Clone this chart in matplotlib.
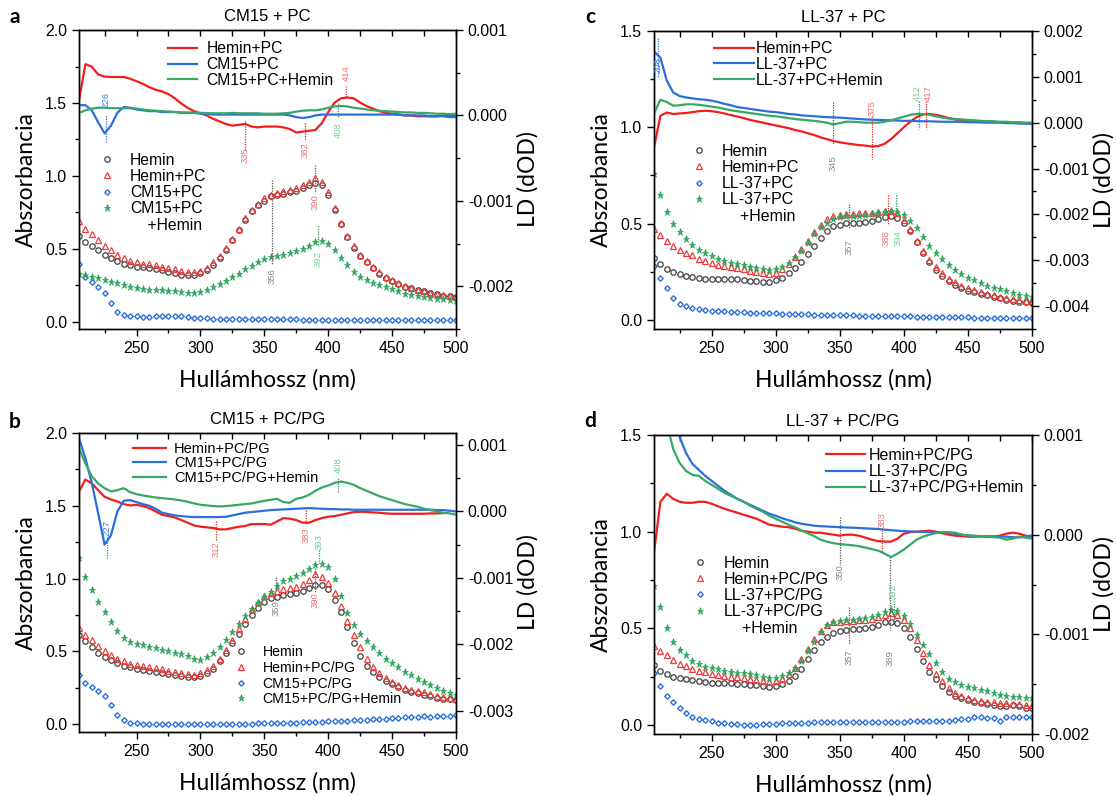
import numpy as np
import matplotlib
matplotlib.use('Agg')
import matplotlib.pyplot as plt
from matplotlib.lines import Line2D
from matplotlib.ticker import MultipleLocator, FormatStrFormatter

plt.rcParams['font.family'] = ['Liberation Sans', 'DejaVu Sans']

# wavelength grid (nm), one point every 5 nm
wl = np.arange(205, 501, 5)

# ---------------- panel a: CM15 + PC ----------------
a_hemin = [0.59, 0.55, 0.52, 0.49, 0.46, 0.44, 0.42, 0.40, 0.39, 0.38,
           0.375, 0.37, 0.36, 0.355, 0.345, 0.335, 0.325, 0.32, 0.325, 0.335,
           0.355, 0.39, 0.435, 0.49, 0.56, 0.63, 0.70, 0.76, 0.80, 0.83,
           0.86, 0.87, 0.88, 0.89, 0.90, 0.92, 0.94, 0.955, 0.94, 0.87,
           0.77, 0.67, 0.58, 0.51, 0.45, 0.41, 0.37, 0.33, 0.30, 0.28,
           0.26, 0.24, 0.23, 0.22, 0.21, 0.20, 0.19, 0.18, 0.175, 0.17]
a_hemin_pc = [0.69, 0.64, 0.60, 0.56, 0.52, 0.49, 0.46, 0.44, 0.42, 0.41,
              0.40, 0.395, 0.39, 0.38, 0.37, 0.36, 0.35, 0.345, 0.345, 0.35,
              0.37, 0.41, 0.45, 0.51, 0.57, 0.64, 0.71, 0.77, 0.81, 0.85,
              0.87, 0.885, 0.895, 0.905, 0.92, 0.94, 0.96, 0.985, 0.96, 0.89,
              0.78, 0.68, 0.59, 0.52, 0.46, 0.415, 0.375, 0.34, 0.31, 0.285,
              0.265, 0.245, 0.23, 0.22, 0.21, 0.20, 0.19, 0.185, 0.175, 0.17]
a_cm15_pc = [0.40, 0.31, 0.275, 0.24, 0.20, 0.13, 0.07, 0.045, 0.04, 0.038,
             0.037, 0.037, 0.038, 0.04, 0.04, 0.04, 0.038, 0.035, 0.03, 0.027,
             0.025, 0.022, 0.02, 0.02, 0.02, 0.019, 0.019, 0.018, 0.018, 0.018,
             0.018, 0.017, 0.017, 0.017, 0.017, 0.016, 0.016, 0.016, 0.016, 0.016,
             0.016, 0.016, 0.015, 0.015, 0.015, 0.015, 0.015, 0.015, 0.015, 0.015,
             0.015, 0.015, 0.015, 0.015, 0.014, 0.014, 0.014, 0.014, 0.014, 0.014]
a_cm15_pc_hemin = [0.33, 0.32, 0.31, 0.30, 0.29, 0.275, 0.265, 0.25, 0.24, 0.23,
                   0.225, 0.222, 0.22, 0.218, 0.215, 0.21, 0.205, 0.20, 0.198, 0.205,
                   0.22, 0.24, 0.26, 0.28, 0.305, 0.33, 0.36, 0.385, 0.41, 0.43,
                   0.445, 0.455, 0.46, 0.47, 0.485, 0.50, 0.52, 0.545, 0.555, 0.535,
                   0.49, 0.435, 0.39, 0.345, 0.31, 0.29, 0.27, 0.255, 0.24, 0.225,
                   0.21, 0.195, 0.185, 0.175, 0.17, 0.165, 0.16, 0.155, 0.15, 0.145]
# LD spectra in units of 1e-3 dOD
a_ld_hemin_pc = [0.18, 0.60, 0.57, 0.48, 0.455, 0.45, 0.45, 0.45, 0.43, 0.40,
                 0.37, 0.33, 0.30, 0.28, 0.25, 0.20, 0.14, 0.09, 0.05, 0.025,
                 0.0, -0.04, -0.07, -0.10, -0.12, -0.11, -0.10, -0.13, -0.14, -0.13,
                 -0.13, -0.13, -0.14, -0.16, -0.20, -0.19, -0.18, -0.17, -0.09, 0.04,
                 0.15, 0.20, 0.21, 0.20, 0.15, 0.11, 0.08, 0.05, 0.03, 0.02,
                 0.01, 0.0, 0.0, -0.01, -0.01, -0.01, -0.01, 0.0, 0.0, 0.0]
a_ld_cm15_pc = [0.12, 0.12, 0.06, -0.08, -0.21, -0.12, 0.03, 0.10, 0.09, 0.07,
                0.06, 0.05, 0.05, 0.04, 0.04, 0.04, 0.03, 0.03, 0.03, 0.02,
                0.02, 0.01, 0.01, 0.01, 0.01, 0.01, 0.01, 0.01, 0.01, 0.01,
                0.01, 0.01, 0.01, 0.0, -0.02, -0.03, -0.02, 0.0, 0.01, 0.01,
                0.01, 0.01, 0.01, 0.01, 0.01, 0.01, 0.01, 0.01, 0.01, 0.01,
                0.01, 0.0, 0.0, 0.0, 0.0, -0.01, -0.01, -0.01, -0.02, -0.02]
a_ld_cm15_pc_hemin = [0.03, 0.06, 0.08, 0.09, 0.09, 0.085, 0.085, 0.085, 0.085, 0.08,
                      0.07, 0.06, 0.055, 0.05, 0.045, 0.04, 0.035, 0.035, 0.03, 0.03,
                      0.028, 0.025, 0.025, 0.025, 0.03, 0.025, 0.025, 0.025, 0.025, 0.02,
                      0.02, 0.02, 0.025, 0.03, 0.045, 0.055, 0.06, 0.06, 0.07, 0.09,
                      0.105, 0.11, 0.105, 0.09, 0.08, 0.07, 0.06, 0.055, 0.05, 0.045,
                      0.04, 0.035, 0.035, 0.03, 0.03, 0.025, 0.02, 0.02, 0.015, 0.02]

# ---------------- panel b: CM15 + PC/PG ----------------
b_hemin = [0.61, 0.57, 0.53, 0.49, 0.46, 0.44, 0.42, 0.40, 0.39, 0.38,
           0.37, 0.362, 0.355, 0.35, 0.342, 0.334, 0.327, 0.32, 0.32, 0.33,
           0.35, 0.38, 0.43, 0.49, 0.555, 0.62, 0.69, 0.75, 0.80, 0.84,
           0.865, 0.875, 0.885, 0.892, 0.90, 0.915, 0.935, 0.955, 0.955, 0.925,
           0.85, 0.77, 0.665, 0.555, 0.47, 0.40, 0.355, 0.32, 0.295, 0.275,
           0.255, 0.235, 0.22, 0.21, 0.198, 0.19, 0.182, 0.175, 0.17, 0.165]
b_hemin_pcpg = [0.66, 0.61, 0.575, 0.535, 0.50, 0.475, 0.45, 0.43, 0.415, 0.405,
                0.398, 0.39, 0.385, 0.375, 0.365, 0.357, 0.35, 0.342, 0.34, 0.35,
                0.37, 0.40, 0.45, 0.51, 0.58, 0.65, 0.72, 0.79, 0.84, 0.88,
                0.90, 0.915, 0.925, 0.935, 0.945, 0.96, 0.99, 1.03, 1.01, 0.97,
                0.90, 0.81, 0.71, 0.61, 0.53, 0.45, 0.395, 0.35, 0.315, 0.29,
                0.27, 0.25, 0.235, 0.225, 0.22, 0.205, 0.195, 0.185, 0.18, 0.175]
b_cm15_pcpg = [0.34, 0.28, 0.255, 0.225, 0.19, 0.13, 0.065, 0.025, 0.01, 0.005,
               0.003, 0.002, 0.002, 0.003, 0.003, 0.003, 0.002, 0.0, 0.0, -0.002,
               0.0, 0.0, 0.001, 0.001, 0.002, 0.002, 0.003, 0.003, 0.004, 0.005,
               0.006, 0.007, 0.008, 0.009, 0.01, 0.012, 0.013, 0.015, 0.016, 0.018,
               0.019, 0.02, 0.022, 0.025, 0.027, 0.03, 0.032, 0.035, 0.037, 0.04,
               0.042, 0.045, 0.05, 0.048, 0.055, 0.05, 0.053, 0.055, 0.058, 0.06]
b_cm15_pcpg_hemin = [1.14, 1.01, 0.92, 0.84, 0.77, 0.70, 0.64, 0.59, 0.565, 0.55,
                     0.54, 0.53, 0.52, 0.51, 0.50, 0.49, 0.48, 0.47, 0.45, 0.44,
                     0.46, 0.49, 0.53, 0.58, 0.63, 0.69, 0.74, 0.79, 0.83, 0.87,
                     0.91, 0.95, 0.985, 1.0, 1.02, 1.04, 1.065, 1.09, 1.10, 1.08,
                     1.0, 0.88, 0.76, 0.68, 0.62, 0.57, 0.53, 0.49, 0.45, 0.42,
                     0.39, 0.36, 0.335, 0.31, 0.29, 0.27, 0.25, 0.23, 0.21, 0.20]
b_ld_hemin_pcpg = [0.30, 0.48, 0.42, 0.32, 0.22, 0.18, 0.15, 0.11, 0.09, 0.10,
                   0.08, 0.05, 0.0, -0.05, -0.07, -0.09, -0.13, -0.17, -0.21, -0.23,
                   -0.24, -0.25, -0.27, -0.27, -0.25, -0.23, -0.22, -0.19, -0.19, -0.19,
                   -0.20, -0.15, -0.10, -0.11, -0.13, -0.17, -0.17, -0.13, -0.10, -0.08,
                   -0.07, -0.05, -0.03, -0.01, -0.005, -0.01, -0.015, -0.02, -0.03, -0.035,
                   -0.035, -0.035, -0.035, -0.035, -0.035, -0.03, -0.03, -0.025, np.nan, np.nan]
b_ld_cm15_pcpg = [1.10, 0.80, 0.43, -0.03, -0.50, -0.36, 0.0, 0.16, 0.17, 0.14,
                  0.11, 0.085, 0.04, -0.02, -0.04, -0.06, -0.07, -0.08, -0.085, -0.085,
                  -0.085, -0.085, -0.085, -0.08, -0.06, -0.04, -0.02, -0.01, 0.0, 0.01,
                  0.02, 0.025, 0.03, 0.035, 0.04, 0.045, 0.05, 0.045, 0.04, 0.035,
                  0.035, 0.03, 0.03, 0.025, 0.025, 0.025, 0.025, 0.025, 0.025, 0.025,
                  0.025, 0.025, 0.025, 0.025, 0.025, 0.025, 0.02, 0.02, 0.01, 0.0]
b_ld_cm15_pcpg_hemin = [0.95, 0.72, 0.53, 0.42, 0.35, 0.30, 0.32, 0.35, 0.29, 0.26,
                        0.24, 0.225, 0.21, 0.20, 0.19, 0.18, 0.165, 0.145, 0.12, 0.10,
                        0.09, 0.08, 0.075, 0.08, 0.09, 0.10, 0.11, 0.12, 0.14, 0.16,
                        0.175, 0.19, 0.14, 0.13, 0.19, 0.21, 0.25, 0.31, 0.36, 0.39,
                        0.43, 0.45, 0.43, 0.40, 0.35, 0.31, 0.27, 0.23, 0.20, 0.17,
                        0.14, 0.11, 0.09, 0.07, 0.04, 0.02, 0.0, -0.02, -0.03, -0.05]

# ---------------- panel c: LL-37 + PC ----------------
c_hemin = [0.32, 0.29, 0.265, 0.25, 0.24, 0.23, 0.225, 0.218, 0.214, 0.212,
           0.21, 0.21, 0.21, 0.21, 0.207, 0.204, 0.20, 0.198, 0.198, 0.205,
           0.22, 0.245, 0.27, 0.30, 0.34, 0.385, 0.425, 0.46, 0.485, 0.495,
           0.502, 0.505, 0.505, 0.507, 0.513, 0.522, 0.532, 0.538, 0.53, 0.505,
           0.46, 0.405, 0.35, 0.30, 0.26, 0.23, 0.20, 0.18, 0.165, 0.152,
           0.145, 0.137, 0.13, 0.12, 0.112, 0.105, 0.10, 0.095, 0.092, 0.09]
c_hemin_pc = [0.47, 0.44, 0.41, 0.385, 0.365, 0.35, 0.335, 0.318, 0.305, 0.295,
              0.287, 0.28, 0.275, 0.27, 0.262, 0.255, 0.248, 0.242, 0.24, 0.245,
              0.265, 0.29, 0.325, 0.37, 0.41, 0.455, 0.495, 0.525, 0.54, 0.545,
              0.55, 0.552, 0.553, 0.554, 0.556, 0.558, 0.563, 0.565, 0.555, 0.52,
              0.47, 0.41, 0.36, 0.31, 0.275, 0.245, 0.215, 0.195, 0.178, 0.165,
              0.155, 0.145, 0.135, 0.127, 0.12, 0.113, 0.108, 0.104, 0.10, 0.098]
c_ll37_pc = [0.28, 0.22, 0.165, 0.115, 0.085, 0.07, 0.062, 0.056, 0.052, 0.048,
             0.046, 0.044, 0.042, 0.041, 0.04, 0.038, 0.037, 0.036, 0.035, 0.034,
             0.033, 0.032, 0.031, 0.03, 0.029, 0.028, 0.027, 0.026, 0.026, 0.025,
             0.024, 0.024, 0.023, 0.022, 0.022, 0.021, 0.02, 0.02, 0.019, 0.018,
             0.018, 0.017, 0.017, 0.016, 0.015, 0.015, 0.014, 0.014, 0.013, 0.013,
             0.012, 0.012, 0.011, 0.011, 0.01, 0.01, 0.009, 0.009, 0.008, 0.008]
c_ll37_pc_hemin = [0.76, 0.65, 0.56, 0.50, 0.455, 0.42, 0.39, 0.365, 0.345, 0.33,
                   0.315, 0.305, 0.297, 0.29, 0.283, 0.277, 0.27, 0.263, 0.26, 0.262,
                   0.275, 0.295, 0.325, 0.36, 0.40, 0.445, 0.48, 0.505, 0.522, 0.532,
                   0.537, 0.54, 0.542, 0.545, 0.548, 0.553, 0.56, 0.566, 0.562, 0.545,
                   0.515, 0.475, 0.43, 0.385, 0.345, 0.315, 0.285, 0.26, 0.24, 0.22,
                   0.205, 0.19, 0.178, 0.168, 0.16, 0.15, 0.14, 0.132, 0.125, 0.118]
c_ld_hemin_pc = [-0.55, 0.15, 0.22, 0.19, 0.20, 0.21, 0.23, 0.25, 0.26, 0.25,
                 0.23, 0.20, 0.165, 0.135, 0.10, 0.06, 0.03, 0.0, -0.03, -0.06,
                 -0.09, -0.12, -0.16, -0.19, -0.23, -0.27, -0.32, -0.36, -0.40, -0.43,
                 -0.45, -0.47, -0.49, -0.50, -0.52, -0.51, -0.46, -0.36, -0.23, -0.10,
                 0.02, 0.12, 0.18, 0.19, 0.17, 0.14, 0.10, 0.07, 0.06, 0.05,
                 0.04, 0.03, 0.03, 0.02, 0.01, 0.0, 0.0, 0.0, -0.01, -0.02]
c_ld_ll37_pc = [1.55, 1.42, 0.92, 0.66, 0.58, 0.55, 0.53, 0.51, 0.50, 0.48,
                0.45, 0.41, 0.38, 0.34, 0.32, 0.30, 0.28, 0.26, 0.24, 0.23,
                0.21, 0.19, 0.18, 0.16, 0.15, 0.14, 0.13, 0.12, 0.115, 0.11,
                0.10, 0.09, 0.08, 0.07, 0.065, 0.06, 0.055, 0.05, 0.045, 0.04,
                0.04, 0.035, 0.03, 0.03, 0.025, 0.02, 0.02, 0.02, 0.015, 0.01,
                0.01, 0.005, 0.0, 0.0, 0.0, -0.01, -0.01, -0.02, -0.02, -0.03]
c_ld_ll37_pc_hemin = [0.20, 0.50, 0.45, 0.37, 0.38, 0.40, 0.40, 0.39, 0.37, 0.35,
                      0.33, 0.30, 0.27, 0.25, 0.23, 0.21, 0.19, 0.17, 0.15, 0.14,
                      0.12, 0.10, 0.08, 0.065, 0.05, 0.04, 0.02, 0.0, -0.04, -0.01,
                      0.02, 0.02, 0.01, 0.0, 0.0, 0.0, 0.02, 0.05, 0.09, 0.13,
                      0.17, 0.19, 0.19, 0.17, 0.14, 0.11, 0.09, 0.08, 0.07, 0.06,
                      0.05, 0.04, 0.035, 0.03, 0.02, 0.02, 0.01, 0.01, 0.0, 0.0]

# ---------------- panel d: LL-37 + PC/PG ----------------
d_hemin = [0.31, 0.28, 0.265, 0.25, 0.242, 0.235, 0.23, 0.225, 0.22, 0.217,
           0.215, 0.215, 0.215, 0.214, 0.21, 0.207, 0.204, 0.20, 0.198, 0.20,
           0.21, 0.228, 0.255, 0.29, 0.34, 0.39, 0.43, 0.455, 0.475, 0.487,
           0.493, 0.495, 0.497, 0.50, 0.507, 0.517, 0.53, 0.535, 0.527, 0.50,
           0.455, 0.395, 0.33, 0.275, 0.235, 0.20, 0.17, 0.15, 0.137, 0.128,
           0.12, 0.113, 0.108, 0.103, 0.10, 0.10, 0.103, 0.097, 0.09, 0.087]
d_hemin_pcpg = [0.41, 0.385, 0.36, 0.335, 0.315, 0.303, 0.29, 0.28, 0.272, 0.265,
                0.259, 0.255, 0.25, 0.247, 0.242, 0.235, 0.23, 0.225, 0.224, 0.228,
                0.24, 0.262, 0.295, 0.34, 0.395, 0.445, 0.488, 0.515, 0.53, 0.535,
                0.538, 0.54, 0.542, 0.545, 0.55, 0.557, 0.568, 0.578, 0.57, 0.545,
                0.50, 0.44, 0.37, 0.31, 0.265, 0.225, 0.19, 0.167, 0.15, 0.138,
                0.13, 0.123, 0.12, 0.117, 0.115, 0.112, 0.11, 0.107, 0.105, 0.104]
d_ll37_pcpg = [0.27, 0.20, 0.15, 0.12, 0.085, 0.06, 0.043, 0.033, 0.025, 0.018,
               0.012, 0.008, 0.006, 0.004, 0.002, 0.0, 0.001, 0.003, 0.005, 0.006,
               0.008, 0.009, 0.01, 0.011, 0.012, 0.013, 0.014, 0.015, 0.016, 0.016,
               0.017, 0.017, 0.017, 0.017, 0.017, 0.017, 0.017, 0.017, 0.017, 0.017,
               0.018, 0.018, 0.019, 0.019, 0.02, 0.021, 0.022, 0.025, 0.028, 0.033,
               0.04, 0.04, 0.035, 0.035, 0.018, 0.04, 0.042, 0.04, 0.04, 0.04]
d_ll37_pcpg_hemin = [0.72, 0.61, 0.50, 0.43, 0.39, 0.36, 0.33, 0.315, 0.30, 0.293,
                     0.287, 0.281, 0.276, 0.271, 0.267, 0.262, 0.256, 0.25, 0.242, 0.243,
                     0.252, 0.27, 0.295, 0.33, 0.38, 0.43, 0.48, 0.515, 0.53, 0.537,
                     0.541, 0.545, 0.549, 0.553, 0.56, 0.569, 0.582, 0.592, 0.59, 0.565,
                     0.52, 0.465, 0.415, 0.365, 0.32, 0.275, 0.24, 0.22, 0.207, 0.198,
                     0.19, 0.183, 0.177, 0.165, 0.155, 0.15, 0.146, 0.142, 0.14, 0.138]
d_ld_hemin_pcpg = [-0.18, 0.33, 0.41, 0.36, 0.33, 0.32, 0.32, 0.33, 0.33, 0.31,
                   0.285, 0.26, 0.24, 0.22, 0.20, 0.18, 0.16, 0.13, 0.10, 0.09,
                   0.08, 0.075, 0.06, 0.04, 0.03, 0.02, 0.02, 0.01, 0.0, -0.01,
                   0.0, 0.0, -0.01, -0.03, -0.05, -0.065, -0.07, -0.07, -0.04, 0.01,
                   0.025, 0.03, 0.035, 0.04, 0.03, 0.015, 0.0, -0.01, -0.015, -0.02,
                   -0.02, -0.015, -0.02, -0.02, -0.01, 0.01, 0.02, 0.01, -0.01, -0.02]
d_ld_ll37_pcpg = [2.3, 1.85, 1.5, 1.2, 0.98, 0.82, 0.71, 0.65, 0.59, 0.54,
                  0.49, 0.44, 0.40, 0.36, 0.33, 0.30, 0.27, 0.24, 0.21, 0.19,
                  0.165, 0.145, 0.125, 0.11, 0.10, 0.09, 0.085, 0.082, 0.078, 0.075,
                  0.072, 0.07, 0.067, 0.063, 0.06, 0.057, 0.05, 0.045, 0.04, 0.036,
                  0.033, 0.03, 0.028, 0.027, 0.024, 0.02, 0.017, 0.01, 0.0, -0.007,
                  -0.012, -0.017, -0.017, -0.017, -0.017, -0.02, -0.025, -0.027, -0.02, -0.007]
d_ld_ll37_pcpg_hemin = [1.9, 1.5, 1.12, 0.86, 0.72, 0.64, 0.60, 0.59, 0.54, 0.50,
                        0.46, 0.42, 0.39, 0.36, 0.33, 0.29, 0.26, 0.23, 0.19, 0.16,
                        0.13, 0.10, 0.075, 0.045, 0.015, -0.015, -0.05, -0.07, -0.085, -0.095,
                        -0.10, -0.107, -0.115, -0.13, -0.145, -0.16, -0.19, -0.225, -0.19, -0.15,
                        -0.10, -0.05, -0.02, 0.0, 0.015, 0.027, 0.025, 0.02, 0.0, -0.008,
                        -0.012, -0.015, -0.02, -0.025, -0.03, -0.05, -0.04, -0.02, -0.03, -0.04]

RED, BLUE, GREEN = '#f21d1d', '#2b6fdc', '#37a865'
GREY_MK = '#404040'
# peak markers: (axis, wavelength, y from, y to, text y, colour key, text nudge in nm)
# LD values are given in 1e-3 dOD
TXT_COL = {'grey': '#8a8a8a', 'red': '#f07272', 'green': '#78cf95', 'blue': '#3d7fd9'}
LIN_COL = {'grey': '#555555', 'red': '#e02424', 'green': '#1f9a4a', 'blue': '#2b6fdc'}

a_marks = [('ld', 226, -0.31, 0.0, 0.18, 'blue', 0),
           ('ld', 335, -0.06, -0.41, -0.46, 'red', 0),
           ('ld', 382, -0.09, -0.30, -0.40, 'red', 0),
           ('ld', 414, 0.21, 0.35, 0.50, 'red', 0),
           ('ld', 408, 0.14, -0.02, -0.17, 'green', 0),
           ('abs', 356, 0.97, 0.39, 0.315, 'grey', 0),
           ('abs', 390, 1.075, 0.89, 0.82, 'red', 0),
           ('abs', 392, 0.66, 0.52, 0.43, 'green', 0)]
b_marks = [('ld', 227, -0.38, -0.70, -0.25, 'blue', 0),
           ('ld', 312, -0.15, -0.43, -0.56, 'red', 0),
           ('ld', 383, 0.025, -0.166, -0.35, 'red', 0),
           ('ld', 408, 0.51, 0.28, 0.70, 'green', 0),
           ('abs', 393, 1.195, 1.105, 1.25, 'green', 0),
           ('abs', 359, 1.01, 0.91, 0.80, 'grey', 0),
           ('abs', 390, 1.07, 0.91, 0.85, 'red', 0)]
c_marks = [('ld', 208, 1.85, 1.0, 1.25, 'blue', 0),
           ('ld', 345, 0.44, -0.47, -0.89, 'grey', 0),
           ('ld', 375, 0.146, -0.79, 0.31, 'red', 0),
           ('ld', 412, 0.47, -0.14, 0.64, 'green', -1.8),
           ('ld', 417, 0.47, -0.14, 0.64, 'red', 1.8),
           ('abs', 357, 0.60, 0.47, 0.38, 'grey', 0),
           ('abs', 388, 0.65, 0.50, 0.424, 'red', -1.8),
           ('abs', 394, 0.65, 0.55, 0.424, 'green', 1.8)]
d_marks = [('ld', 350, 0.18, -0.30, -0.375, 'grey', 0),
           ('ld', 383, 0.05, -0.18, 0.15, 'red', 0),
           ('abs', 389, 0.87, 0.49, 0.345, 'grey', 0),
           ('abs', 392, 0.64, 0.54, 0.69, 'green', 0),
           ('abs', 357, 0.61, 0.42, 0.353, 'grey', 0)]

fig = plt.figure(figsize=(11.16, 7.96), dpi=100)


def make_panel(rect, title, letter, letter_xy, abs_lim, ld_lim, series, ld_series,
               marks, line_leg, scat_leg):
    ax = fig.add_axes(rect)
    ax2 = ax.twinx()

    # absorbance spectra (left axis)
    styles = [dict(marker='o', mfc='none', mec=GREY_MK, ms=3.9, mew=0.9),
              dict(marker='^', mfc='none', mec='#f03a3a', ms=3.7, mew=0.9),
              dict(marker='D', mfc='none', mec=BLUE, ms=2.8, mew=1.0),
              dict(marker='*', mfc='#2ea55c', mec='#2ea55c', ms=5.2, mew=0.5)]
    sc_handles = []
    for (vals, label), st in zip(series, styles):
        h, = ax.plot(wl, vals, ls='none', label=label, **st)
        sc_handles.append(h)

    # LD spectra (right axis)
    ln_handles = []
    for (vals, label), col in zip(ld_series, [RED, BLUE, GREEN]):
        h, = ax2.plot(wl, np.array(vals) * 1e-3, color=col, lw=1.6, label=label)
        ln_handles.append(h)

    for kind, x, y0, y1, ty, ck, dx in marks:
        tgt = ax2 if kind == 'ld' else ax
        k = 1e-3 if kind == 'ld' else 1.0
        tgt.plot([x, x], [y0 * k, y1 * k], ls=(0, (1, 1)), lw=0.9, color=LIN_COL[ck])
        tgt.text(x + dx, ty * k, str(x), rotation=90, ha='center', va='center',
                 fontsize=6.8, color=TXT_COL[ck])

    ax.set_xlim(205, 500)
    ax.set_ylim(*abs_lim)
    ax2.set_ylim(*ld_lim)
    ax.xaxis.set_major_locator(MultipleLocator(50))
    ax.xaxis.set_minor_locator(MultipleLocator(25))
    ax.yaxis.set_major_locator(MultipleLocator(0.5))
    ax.yaxis.set_minor_locator(MultipleLocator(0.25))
    ax.yaxis.set_major_formatter(FormatStrFormatter('%.1f'))
    ax2.yaxis.set_major_locator(MultipleLocator(0.001))
    ax2.yaxis.set_minor_locator(MultipleLocator(0.0005))
    ax2.yaxis.set_major_formatter(FormatStrFormatter('%.3f'))
    ax.set_xticks([250, 300, 350, 400, 450, 500])

    ax.tick_params(which='major', length=5, width=1.0, labelsize=11.4, direction='out')
    ax.tick_params(which='minor', length=3, width=1.0, direction='out')
    ax2.tick_params(which='major', length=5, width=1.0, labelsize=11.4, direction='out')
    ax2.tick_params(which='minor', length=3, width=1.0, direction='out')
    top = ax.secondary_xaxis('top')
    top.xaxis.set_major_locator(MultipleLocator(25))
    top.tick_params(direction='in', length=4, width=1.0, labeltop=False)
    for a in (ax, ax2):
        for s in a.spines.values():
            s.set_linewidth(1.0)

    ax.set_xlabel('Hullámhossz (nm)', fontsize=16.5, family='Lato', va='center')
    ax.xaxis.set_label_coords(0.5, -0.17)
    ax.set_ylabel('Abszorbancia', fontsize=16.5, family='Lato', va='center')
    ax.yaxis.set_label_coords(-0.14, 0.5)
    ax2.set_ylabel('LD (dOD)', fontsize=16.5, family='Lato', va='center')
    ax2.yaxis.set_label_coords(1.19, 0.5)
    ax.text(0.5, 1.045, title, transform=ax.transAxes, ha='center', va='center',
            fontsize=12)
    fig.text(letter_xy[0], letter_xy[1], letter, fontsize=15, fontweight='bold',
             family='Lato', ha='center', va='center')

    (lx, ly), lfs, hl, htp, ls = line_leg
    leg1 = ax2.legend(handles=ln_handles, loc='upper left', bbox_to_anchor=(lx, ly),
                      frameon=False, fontsize=lfs, handlelength=hl, handletextpad=htp,
                      labelspacing=ls, borderpad=0, borderaxespad=0)
    ax2.add_artist(leg1)
    (sx, sy), sfs, shl, shtp, sls, extra = scat_leg
    handles = list(sc_handles)
    labels = [h.get_label() for h in handles]
    if extra:
        handles.append(Line2D([], [], ls='none', marker=None))
        labels.append(extra)
    ax2.legend(handles, labels, loc='upper left', bbox_to_anchor=(sx, sy),
               frameon=False, fontsize=sfs, handlelength=shl, handletextpad=shtp,
               labelspacing=sls, borderpad=0, borderaxespad=0)
    return ax, ax2


make_panel([0.0708, 0.5867, 0.3378, 0.3756], 'CM15 + PC', 'a', (0.0135, 0.9786),
           (-0.048, 2.0), (-0.0025, 0.001),
           [(a_hemin, 'Hemin'), (a_hemin_pc, 'Hemin+PC'), (a_cm15_pc, 'CM15+PC'),
            (a_cm15_pc_hemin, 'CM15+PC')],
           [(a_ld_hemin_pc, 'Hemin+PC'), (a_ld_cm15_pc, 'CM15+PC'),
            (a_ld_cm15_pc_hemin, 'CM15+PC+Hemin')],
           a_marks,
           ((0.236, 0.963), 11.3, 1.85, 0.6, 0.06),
           ((0.054, 0.590), 11.3, 1.0, 0.94, 0.08, '    +Hemin'))

make_panel([0.0708, 0.0804, 0.3378, 0.3756], 'CM15 + PC/PG', 'b', (0.0135, 0.470),
           (-0.055, 2.0), (-0.00332, 0.00118),
           [(b_hemin, 'Hemin'), (b_hemin_pcpg, 'Hemin+PC/PG'), (b_cm15_pcpg, 'CM15+PC/PG'),
            (b_cm15_pcpg_hemin, 'CM15+PC/PG+Hemin')],
           [(b_ld_hemin_pcpg, 'Hemin+PC/PG'), (b_ld_cm15_pcpg, 'CM15+PC/PG'),
            (b_ld_cm15_pcpg_hemin, 'CM15+PC/PG+Hemin')],
           b_marks,
           ((0.143, 0.970), 10.5, 2.3, 0.5, 0.03),
           ((0.41, 0.29), 10.2, 1.0, 1.05, 0.12, None))

make_panel([0.5860, 0.5867, 0.3387, 0.3744], 'LL-37 + PC', 'c', (0.529, 0.9786),
           (-0.047, 1.5), (-0.0045, 0.002),
           [(c_hemin, 'Hemin'), (c_hemin_pc, 'Hemin+PC'), (c_ll37_pc, 'LL-37+PC'),
            (c_ll37_pc_hemin, 'LL-37+PC')],
           [(c_ld_hemin_pc, 'Hemin+PC'), (c_ld_ll37_pc, 'LL-37+PC'),
            (c_ld_ll37_pc_hemin, 'LL-37+PC+Hemin')],
           c_marks,
           ((0.159, 0.966), 11.5, 2.5, 0.13, 0.05),
           ((0.099, 0.622), 11.5, 1.0, 0.93, 0.08, '    +Hemin'))

make_panel([0.5860, 0.0779, 0.3387, 0.3756], 'LL-37 + PC/PG', 'd', (0.529, 0.471),
           (-0.047, 1.5), (-0.002, 0.001),
           [(d_hemin, 'Hemin'), (d_hemin_pcpg, 'Hemin+PC/PG'), (d_ll37_pcpg, 'LL-37+PC/PG'),
            (d_ll37_pcpg_hemin, 'LL-37+PC/PG')],
           [(d_ld_hemin_pcpg, 'Hemin+PC/PG'), (d_ld_ll37_pcpg, 'LL-37+PC/PG'),
            (d_ld_ll37_pcpg_hemin, 'LL-37+PC/PG+Hemin')],
           d_marks,
           ((0.455, 0.957), 11.5, 2.42, 0.26, 0.08),
           ((0.1016, 0.597), 11.5, 1.0, 0.97, 0.08, '    +Hemin'))

fig.savefig('out.png', dpi=100)
